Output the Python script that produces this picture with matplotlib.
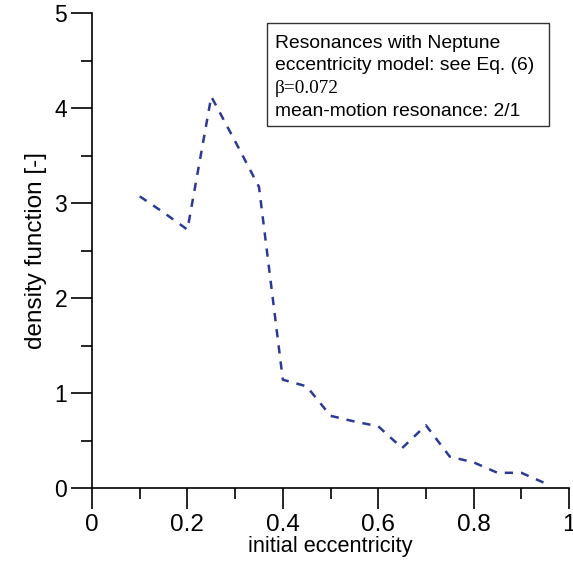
import numpy as np
import matplotlib.pyplot as plt
from matplotlib.ticker import MultipleLocator

plt.rcParams["font.family"] = ["Liberation Sans", "DejaVu Sans"]

# density function
ecc = [0.10, 0.15, 0.20, 0.25, 0.30, 0.35, 0.40, 0.45, 0.50, 0.55,
       0.60, 0.65, 0.70, 0.75, 0.80, 0.85, 0.90, 0.95]
density = [3.07, 2.90, 2.72, 4.12, 3.65, 3.17, 1.14, 1.07, 0.76, 0.70,
           0.65, 0.42, 0.66, 0.33, 0.27, 0.16, 0.16, 0.05]

fig = plt.figure(figsize=(5.73, 5.63), dpi=100)
ax = fig.add_axes([0.1606, 0.1332, 0.8325, 0.8437])

ax.plot(ecc, density, color="#2b3a95", lw=1.8, ls=(0, (3.3, 3.2)))

ax.set_xlim(0, 1)
ax.set_ylim(0, 5)
ax.xaxis.set_major_locator(MultipleLocator(0.2))
ax.xaxis.set_minor_locator(MultipleLocator(0.1))
ax.yaxis.set_major_locator(MultipleLocator(1))
ax.yaxis.set_minor_locator(MultipleLocator(0.5))
ax.xaxis.set_major_formatter(plt.FuncFormatter(lambda v, p: f"{v:g}"))
ax.yaxis.set_major_formatter(plt.FuncFormatter(lambda v, p: f"{v:g}"))

for s in ["top", "right"]:
    ax.spines[s].set_visible(False)
for s in ["left", "bottom"]:
    ax.spines[s].set_linewidth(1.2)

ax.tick_params(which="major", direction="out", length=15, width=1.2)
ax.tick_params(which="minor", direction="out", length=8, width=1.2)
ax.tick_params(axis="x", labelsize=17.5, pad=4)
ax.tick_params(axis="y", labelsize=16.5, pad=3)

ax.set_xlabel("initial eccentricity", fontsize=15.7, labelpad=0)
ax.set_ylabel("density function [-]", fontsize=17.5, labelpad=5)

# annotation box
fig.patches.append(plt.Rectangle((267 / 573, 1 - 126 / 563), 282 / 573, 103 / 563,
                                 transform=fig.transFigure, fill=False,
                                 edgecolor="#333333", lw=1.0))
lines = ["Resonances with Neptune", "eccentricity model: see Eq. (6)",
         "\u03b2=0.072", "mean-motion resonance: 2/1"]
for i, txt in enumerate(lines):
    fam = ["Liberation Serif"] if i == 2 else ["Liberation Sans", "DejaVu Sans"]
    fig.text(275 / 573, 1 - (43 + i * 22.7) / 563, txt, fontsize=13.9,
             family=fam, va="center", ha="left")

fig.savefig("out.png", dpi=100)
